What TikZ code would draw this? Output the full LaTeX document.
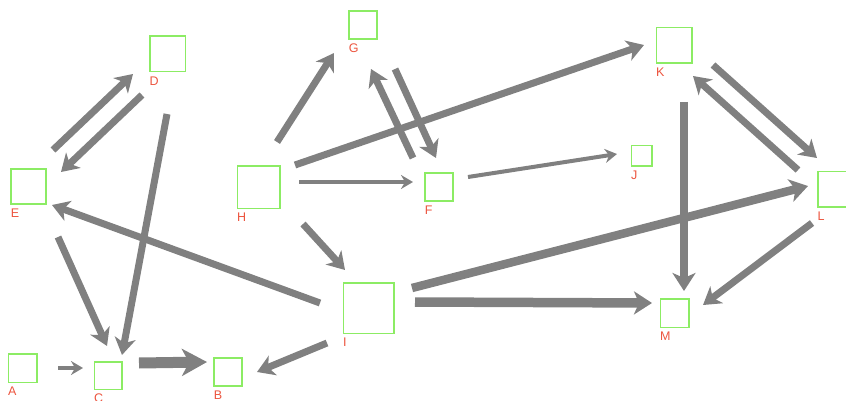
\documentclass[tikz,border=0pt]{standalone}
\usepackage{fontspec}
\setmainfont{Liberation Sans}
\usetikzlibrary{arrows.meta,calc}
\definecolor{boxgreen}{RGB}{140,236,100}
\definecolor{labred}{RGB}{236,84,62}
\definecolor{arrgray}{RGB}{128,128,128}
\tikzset{
  box/.style={draw=boxgreen, line width=1.5pt, inner sep=0pt, minimum width=#1, minimum height=#1},
  lab/.style={text=labred, font=\fontsize{12.5}{15}\selectfont, inner sep=0pt, anchor=north west},
  ethin/.style={draw=arrgray, line width=4pt, -{Stealth[length=12pt,width=14pt,inset=4pt]}},
  emed/.style={draw=arrgray, line width=7pt, -{Stealth[length=17pt,width=21pt,inset=5pt]}},
  ewide/.style={draw=arrgray, line width=8.5pt, -{Stealth[length=18pt,width=23pt,inset=5pt]}},
  ethick/.style={draw=arrgray, line width=11pt, -{Stealth[length=25pt,width=27pt,inset=7pt]}},
}
\begin{document}
\begin{tikzpicture}[x=1pt,y=-1pt]
\useasboundingbox (0,0) rectangle (846,401);
% nodes
\node[box=28.5pt] (A) at (22.5,368) {};
\node[box=28pt] (B) at (228,372) {};
\node[box=27.5pt] (C) at (108,375.5) {};
\node[box=35.5pt] (D) at (167.5,54) {};
\node[box=35pt] (E) at (28.5,186.5) {};
\node[box=28pt] (F) at (439,187) {};
\node[box=28pt] (G) at (363,25) {};
\node[box=42.5pt] (H) at (258.5,187) {};
\node[box=50.5pt] (I) at (368.5,308) {};
\node[box=20.5pt] (J) at (641.5,156) {};
\node[box=35.5pt] (K) at (674,45.5) {};
\node[box=35.5pt] (L) at (835.5,189) {};
\node[box=28.5pt] (M) at (674.5,313) {};
% labels
\foreach \n in {A,B,C,D,E,F,G,H,I,J,K,L,M}{
  \node[lab] (lab\n) at ($(\n.south west)+(0.5,4)$) {\n};
}
% edges
\draw[ethin]  ($(A)+(35.5,0)$)    -- ($(C)+(-25,-7.5)$);
\draw[ethick] ($(C)+(31,-12.5)$)  -- ($(B)+(-21,-10)$);
\draw[emed]   ($(E)+(24.5,-36.5)$) -- ($(D)+(-34.5,20)$);
\draw[emed]   ($(D)+(-25.5,41)$)  -- ($(E)+(32.5,-14.5)$);
\draw[emed]   ($(D)+(-0.5,60)$)   -- ($(C)+(14,-20.5)$);
\draw[emed]   ($(E)+(29.5,50.5)$) -- ($(C)+(-1,-29.5)$);
\draw[emed]   ($(I)+(-48.5,-5)$)  -- ($(E)+(23.5,18.5)$);
\draw[emed]   ($(I)+(-41.5,35)$)  -- ($(B)+(29,0)$);
\draw[emed]   ($(H)+(18.5,-45)$)  -- ($(G)+(-29,28)$);
\draw[emed]   ($(H)+(36.5,-22)$)  -- ($(K)+(-30,-0.5)$);
\draw[ethin]  ($(H)+(40.5,-5)$)   -- ($(F)+(-26,-5)$);
\draw[emed]   ($(H)+(44.5,37)$)   -- ($(I)+(-23.5,-38)$);
\draw[emed]   ($(G)+(32,44)$)     -- ($(F)+(-3,-29)$);
\draw[emed]   ($(F)+(-26,-29)$)   -- ($(G)+(8,44)$);
\draw[ethin]  ($(F)+(29,-10)$)    -- ($(J)+(-24.5,-2)$);
\draw[ewide]  ($(I)+(43.5,-20)$)  -- ($(L)+(-27.5,-3)$);
\draw[ewide,line width=9.5pt] ($(I)+(46.5,-6)$) -- ($(M)+(-22.5,-10)$);
\draw[ewide]  ($(K)+(10,56.5)$)   -- ($(M)+(9.5,-22)$);
\draw[emed]   ($(K)+(39,19.5)$)   -- ($(L)+(-18.5,-31)$);
\draw[emed]   ($(L)+(-37.5,-19)$) -- ($(K)+(19,30.5)$);
\draw[emed]   ($(L)+(-23.5,34)$)  -- ($(M)+(28.5,-8)$);
\end{tikzpicture}
\end{document}
